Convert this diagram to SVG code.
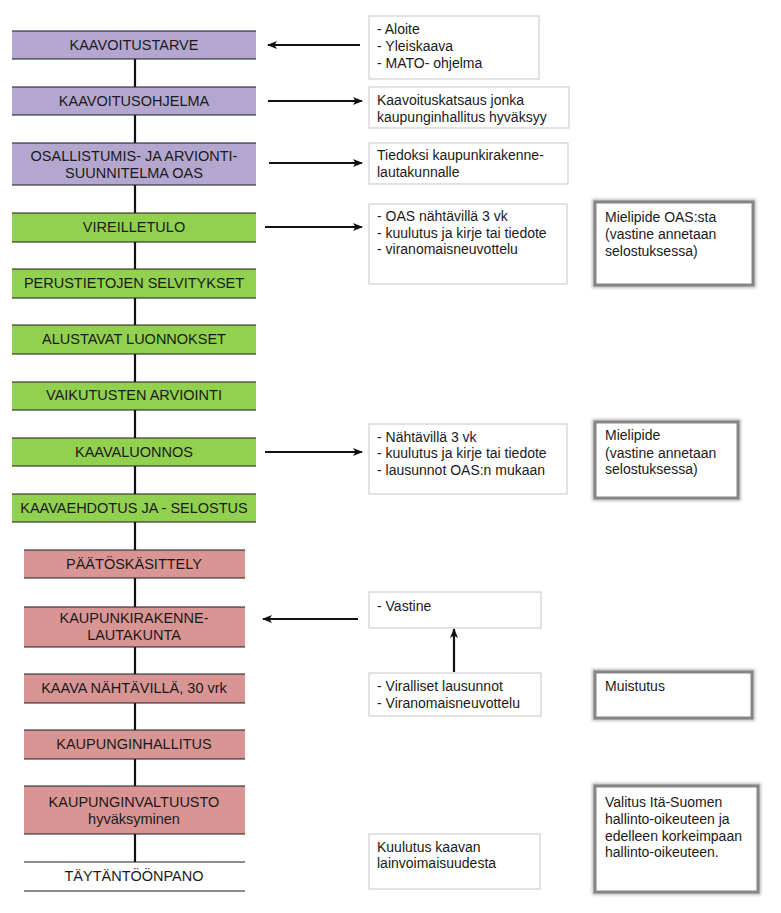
<svg xmlns="http://www.w3.org/2000/svg" width="781" height="913" viewBox="0 0 781 913">
<defs>
<style>
.t{font-family:"Liberation Sans",Arial,sans-serif;font-size:14.5px;fill:#1a1a1a;text-anchor:middle}
.r{font-family:"Liberation Sans",Arial,sans-serif;font-size:14px;fill:#1a1a1a}
.pu{fill:#b4a7cf}
.gr{fill:#92d050}
.rd{fill:#d99594}
.wh{fill:#ffffff}
.edge{stroke:#1a1a1a;stroke-width:1}
.box{fill:#fff;stroke:#cfcfcf;stroke-width:1.2}
.sbox{fill:#fff;stroke:#858585;stroke-width:3}
.sh{fill:none;stroke:#bdbdbd;stroke-width:6}
.ln{stroke:#111;stroke-width:2.2;fill:none}
</style>
<marker id="ah" viewBox="0 0 10 8" refX="9" refY="4" markerWidth="10" markerHeight="8" markerUnits="userSpaceOnUse" orient="auto">
<path d="M0,0 L10,4 L0,8 L2.5,4 z" fill="#111"/>
</marker>
<filter id="blur" x="-10%" y="-10%" width="120%" height="120%"><feGaussianBlur stdDeviation="1.5"/></filter>
</defs>
<rect width="781" height="913" fill="#fff"/>

<g id="connectors">
<line class="ln" x1="135" y1="59" x2="135" y2="862"/>
<line class="ln" x1="360" y1="45" x2="268" y2="45" marker-end="url(#ah)"/>
<line class="ln" x1="268" y1="101" x2="362" y2="101" marker-end="url(#ah)"/>
<line class="ln" x1="269" y1="163" x2="362" y2="163" marker-end="url(#ah)"/>
<line class="ln" x1="265" y1="227" x2="362" y2="227" marker-end="url(#ah)"/>
<line class="ln" x1="265" y1="452" x2="362" y2="452" marker-end="url(#ah)"/>
<line class="ln" x1="358" y1="619" x2="263" y2="619" marker-end="url(#ah)"/>
<line class="ln" x1="454" y1="672" x2="454" y2="629" marker-end="url(#ah)"/>
</g>

<g id="n1"><rect class="pu" x="12" y="31" width="244" height="28"/><line class="edge" x1="12" y1="31" x2="256" y2="31"/><line class="edge" x1="12" y1="59" x2="256" y2="59"/><text class="t" x="134" y="50">KAAVOITUSTARVE</text></g>
<g id="n2"><rect class="pu" x="12" y="87" width="244" height="28"/><line class="edge" x1="12" y1="87" x2="256" y2="87"/><line class="edge" x1="12" y1="115" x2="256" y2="115"/><text class="t" x="134" y="106">KAAVOITUSOHJELMA</text></g>
<g id="n3"><rect class="pu" x="12" y="143" width="244" height="42"/><line class="edge" x1="12" y1="143" x2="256" y2="143"/><line class="edge" x1="12" y1="185" x2="256" y2="185"/><text class="t" x="134" y="161">OSALLISTUMIS- JA ARVIONTI-</text><text class="t" x="134" y="178">SUUNNITELMA OAS</text></g>
<g id="n4"><rect class="gr" x="12" y="213" width="244" height="29"/><line class="edge" x1="12" y1="213" x2="256" y2="213"/><line class="edge" x1="12" y1="242" x2="256" y2="242"/><text class="t" x="134" y="232">VIREILLETULO</text></g>
<g id="n5"><rect class="gr" x="12" y="269" width="244" height="29"/><line class="edge" x1="12" y1="269" x2="256" y2="269"/><line class="edge" x1="12" y1="298" x2="256" y2="298"/><text class="t" x="134" y="288">PERUSTIETOJEN SELVITYKSET</text></g>
<g id="n6"><rect class="gr" x="12" y="325" width="244" height="29"/><line class="edge" x1="12" y1="325" x2="256" y2="325"/><line class="edge" x1="12" y1="354" x2="256" y2="354"/><text class="t" x="134" y="344">ALUSTAVAT LUONNOKSET</text></g>
<g id="n7"><rect class="gr" x="12" y="382" width="244" height="28"/><line class="edge" x1="12" y1="382" x2="256" y2="382"/><line class="edge" x1="12" y1="410" x2="256" y2="410"/><text class="t" x="134" y="400">VAIKUTUSTEN ARVIOINTI</text></g>
<g id="n8"><rect class="gr" x="12" y="438" width="244" height="28"/><line class="edge" x1="12" y1="438" x2="256" y2="438"/><line class="edge" x1="12" y1="466" x2="256" y2="466"/><text class="t" x="134" y="457">KAAVALUONNOS</text></g>
<g id="n9"><rect class="gr" x="12" y="494" width="244" height="28"/><line class="edge" x1="12" y1="494" x2="256" y2="494"/><line class="edge" x1="12" y1="522" x2="256" y2="522"/><text class="t" x="134" y="513">KAAVAEHDOTUS JA - SELOSTUS</text></g>
<g id="n10"><rect class="rd" x="24" y="550" width="221" height="28"/><line class="edge" x1="24" y1="550" x2="245" y2="550"/><line class="edge" x1="24" y1="578" x2="245" y2="578"/><text class="t" x="134" y="569">PÄÄTÖSKÄSITTELY</text></g>
<g id="n11"><rect class="rd" x="24" y="607" width="221" height="40"/><line class="edge" x1="24" y1="607" x2="245" y2="607"/><line class="edge" x1="24" y1="647" x2="245" y2="647"/><text class="t" x="134" y="623">KAUPUNKIRAKENNE-</text><text class="t" x="134" y="640">LAUTAKUNTA</text></g>
<g id="n12"><rect class="rd" x="24" y="674" width="221" height="29"/><line class="edge" x1="24" y1="674" x2="245" y2="674"/><line class="edge" x1="24" y1="703" x2="245" y2="703"/><text class="t" x="134" y="693">KAAVA NÄHTÄVILLÄ, 30 vrk</text></g>
<g id="n13"><rect class="rd" x="24" y="730" width="221" height="29"/><line class="edge" x1="24" y1="730" x2="245" y2="730"/><line class="edge" x1="24" y1="759" x2="245" y2="759"/><text class="t" x="134" y="749">KAUPUNGINHALLITUS</text></g>
<g id="n14"><rect class="rd" x="24" y="786" width="221" height="48"/><line class="edge" x1="24" y1="786" x2="245" y2="786"/><line class="edge" x1="24" y1="834" x2="245" y2="834"/><text class="t" x="134" y="807">KAUPUNGINVALTUUSTO</text><text class="t" x="134" y="824">hyväksyminen</text></g>
<g id="n15"><rect class="wh" x="24" y="862" width="221" height="29"/><line class="edge" x1="24" y1="862" x2="245" y2="862"/><line class="edge" x1="24" y1="891" x2="245" y2="891"/><text class="t" x="134" y="881">TÄYTÄNTÖÖNPANO</text></g>

<g id="i1"><rect class="box" x="369" y="16" width="170" height="63"/><text class="r" x="377" y="34">- Aloite</text><text class="r" x="377" y="51">- Yleiskaava</text><text class="r" x="377" y="68">- MATO- ohjelma</text></g>
<g id="i2"><rect class="box" x="369" y="87" width="200" height="41"/><text class="r" x="377" y="105">Kaavoituskatsaus jonka</text><text class="r" x="377" y="122">kaupunginhallitus hyväksyy</text></g>
<g id="i3"><rect class="box" x="369" y="143" width="199" height="41"/><text class="r" x="377" y="160">Tiedoksi kaupunkirakenne-</text><text class="r" x="377" y="177">lautakunnalle</text></g>
<g id="i4"><rect class="box" x="369" y="204" width="198" height="80"/><text class="r" x="377" y="221">- OAS nähtävillä 3 vk</text><text class="r" x="377" y="238">- kuulutus ja kirje tai tiedote</text><text class="r" x="377" y="254">- viranomaisneuvottelu</text></g>
<g id="s1"><rect class="sh" x="595" y="202" width="158" height="83" filter="url(#blur)"/><rect class="sbox" x="595" y="202" width="158" height="83"/><text class="r" x="605" y="222">Mielipide OAS:sta</text><text class="r" x="605" y="239">(vastine annetaan</text><text class="r" x="605" y="256">selostuksessa)</text></g>
<g id="i5"><rect class="box" x="369" y="424" width="198" height="70"/><text class="r" x="377" y="442">- Nähtävillä 3 vk</text><text class="r" x="377" y="458">- kuulutus ja kirje tai tiedote</text><text class="r" x="377" y="475">- lausunnot OAS:n mukaan</text></g>
<g id="s2"><rect class="sh" x="595" y="422" width="143" height="76" filter="url(#blur)"/><rect class="sbox" x="595" y="422" width="143" height="76"/><text class="r" x="605" y="440">Mielipide</text><text class="r" x="605" y="458">(vastine annetaan</text><text class="r" x="605" y="474">selostuksessa)</text></g>
<g id="i6"><rect class="box" x="369" y="592" width="172" height="36"/><text class="r" x="377" y="611">- Vastine</text></g>
<g id="i7"><rect class="box" x="369" y="673" width="172" height="43"/><text class="r" x="377" y="691">- Viralliset lausunnot</text><text class="r" x="377" y="708">- Viranomaisneuvottelu</text></g>
<g id="s3"><rect class="sh" x="595" y="672" width="157" height="46" filter="url(#blur)"/><rect class="sbox" x="595" y="672" width="157" height="46"/><text class="r" x="605" y="691">Muistutus</text></g>
<g id="i8"><rect class="box" x="369" y="834" width="171" height="55"/><text class="r" x="377" y="852">Kuulutus kaavan</text><text class="r" x="377" y="868">lainvoimaisuudesta</text></g>
<g id="s4"><rect class="sh" x="595" y="786" width="163" height="106" filter="url(#blur)"/><rect class="sbox" x="595" y="786" width="163" height="106"/><text class="r" x="605" y="807">Valitus Itä-Suomen</text><text class="r" x="605" y="824">hallinto-oikeuteen ja</text><text class="r" x="605" y="841">edelleen korkeimpaan</text><text class="r" x="605" y="857">hallinto-oikeuteen.</text></g>
</svg>
